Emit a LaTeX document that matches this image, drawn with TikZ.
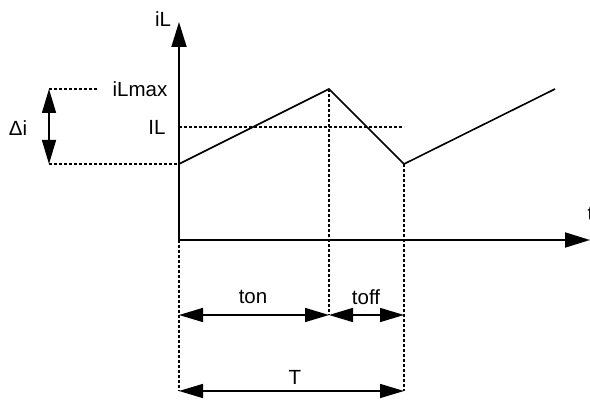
\documentclass[tikz,border=0pt]{standalone}
\usepackage{fontspec}
\setmainfont{Liberation Sans}
\usetikzlibrary{arrows.meta}
\begin{document}
\begin{tikzpicture}[x=1pt,y=-1pt,
  lbl/.style={font=\fontsize{20.5}{24}\selectfont, inner sep=0pt},
  axis/.style={line width=1.8pt, -{Triangle[length=25pt,width=15pt]}},
  wave/.style={line width=1.6pt, line join=miter},
  guide/.style={line width=1.3pt, dash pattern=on 3pt off 2pt},
  dim/.style={line width=1.5pt, {Triangle[length=24pt,width=14pt]}-{Triangle[length=24pt,width=14pt]}}]
\useasboundingbox (0,0) rectangle (590,401);
% key points
\coordinate (O) at (179,240);
\coordinate (ytop) at (179,22);
\coordinate (xend) at (590,240);
\coordinate (p0) at (179,164);
\coordinate (p1) at (329,89);
\coordinate (p2) at (404,164);
\coordinate (p3) at (555,89);
\coordinate (ilend) at (404,127);
\coordinate (ilstart) at (179,127);
\coordinate (maxL) at (49,89);
\coordinate (maxR) at (97,89);
\coordinate (minL) at (49,164);
\coordinate (d1) at (179,391);
\coordinate (d2) at (329,315);
\coordinate (d3) at (404,391);
\coordinate (a0) at (179,315);
\coordinate (a1) at (329,315);
\coordinate (a2) at (404,315);
\coordinate (b0) at (179,391);
\coordinate (b1) at (404,391);
% axes
\draw[axis] (O) -- (ytop);
\draw[axis] (O) -- (xend);
% guides
\draw[guide] (maxL) -- (maxR);
\draw[guide] (minL) -- (p0);
\draw[guide] (ilstart) -- (ilend);
\draw[guide] (p1) -- (d2);
\draw[guide] (p2) -- (d3);
\draw[guide] (O) -- (d1);
% waveform
\draw[wave] (p0) -- (p1) -- (p2) -- (p3);
% delta i arrow
\draw[dim] (maxL) -- (minL);
% time dims
\draw[dim] (a0) -- (a1);
\draw[dim] (a1) -- (a2);
\draw[dim] (b0) -- (b1);
% labels
\node[lbl] (liL) at (163,19) {iL};
\node[lbl] (liLmax) at (140,89) {iLmax};
\node[lbl] (lIL) at (157,127) {IL};
\node[lbl] (ldi) at (18,128) {Δi};
\node[lbl] (lton) at (253,297) {ton};
\node[lbl] (ltoff) at (366,297) {toff};
\node[lbl] (lT) at (295,377) {T};
\node[lbl, anchor=west] (lt) at (587.5,214) {t};
\end{tikzpicture}
\end{document}
